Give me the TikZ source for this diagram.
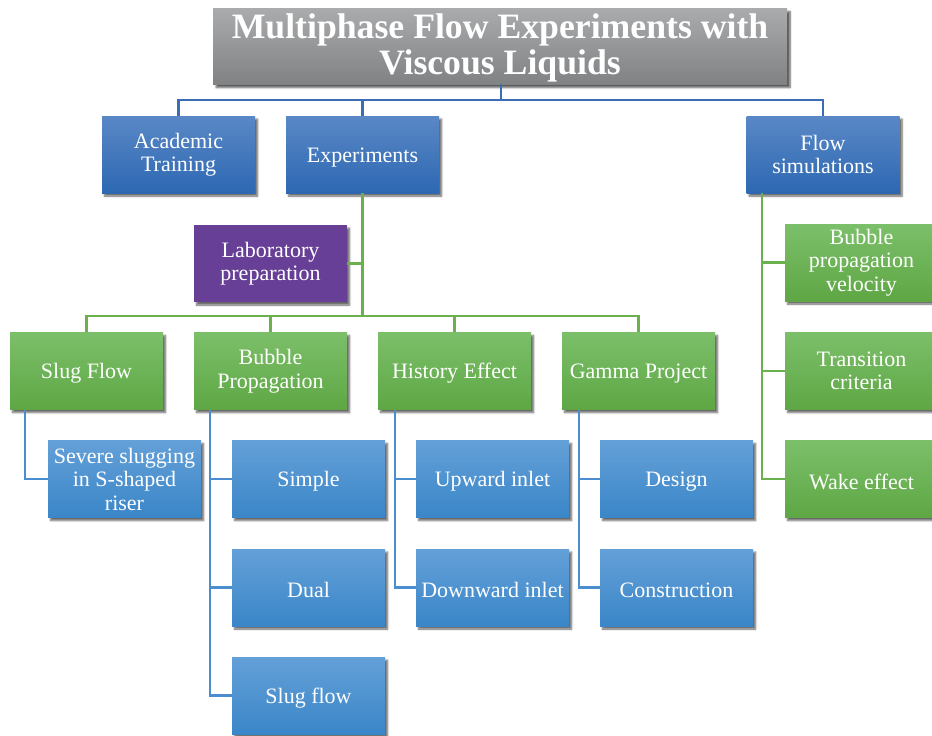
\documentclass[tikz,border=0pt]{standalone}
\usepackage{fontspec}
\setmainfont{Liberation Serif}
\usetikzlibrary{shadows.blur,calc}

\definecolor{titletop}{HTML}{A9ABAD}
\definecolor{titlebot}{HTML}{808284}
\definecolor{navytop}{HTML}{5A88C6}
\definecolor{navybot}{HTML}{2D68B2}
\definecolor{skytop}{HTML}{64A0D8}
\definecolor{skybot}{HTML}{3A86C8}
\definecolor{leaftop}{HTML}{7CBF6A}
\definecolor{leafbot}{HTML}{5EA744}
\definecolor{plum}{HTML}{673F96}
\definecolor{navyline}{HTML}{3B6DB5}
\definecolor{skyline}{HTML}{4A8ECF}
\definecolor{leafline}{HTML}{6AB04C}

\tikzset{
  card/.style={rectangle, minimum width=153pt, minimum height=77pt,
    inner sep=2pt, align=center, text=white,
    font=\fontsize{22}{23.5}\selectfont,
    % a taller first line pushes the text block slightly down
    execute at begin node={\rule{0pt}{20.5pt}},
    blur shadow={shadow xshift=2.5pt, shadow yshift=-3pt,
      shadow blur steps=6, shadow opacity=60}},
  navybox/.style={card, top color=navytop, bottom color=navybot},
  skybox/.style={card, top color=skytop, bottom color=skybot},
  leafbox/.style={card, top color=leaftop, bottom color=leafbot},
  plumbox/.style={card, fill=plum},
  titlebox/.style={rectangle, minimum width=574pt, minimum height=76pt,
    top color=titletop, bottom color=titlebot,
    blur shadow={shadow xshift=3pt, shadow yshift=-3.5pt,
      shadow blur steps=6, shadow opacity=65}},
  titletext/.style={align=center, text=white, inner sep=0pt,
    font=\fontsize{35.7}{36}\selectfont\bfseries},
  navylink/.style={draw=navyline, line width=2.2pt},
  skylink/.style={draw=skyline, line width=2.2pt},
  leaflink/.style={draw=leafline, line width=2.2pt},
}

\begin{document}
\begin{tikzpicture}[x=1pt, y=-1pt]
\useasboundingbox (0,0) rectangle (932,736);

% root
\node[titlebox] (title) at (500,46) {};
\node[titletext] (titlelabel) at ($(title.center)+(0,2)$) {Multiphase Flow Experiments with\\Viscous Liquids};

% first level
\node[navybox] (acad) at (178.5,154.5) {Academic\\Training};
\node[navybox] (exp)  at (362.5,154.5) {Experiments};
\node[navybox] (sim)  at (823,154.5) {Flow\\simulations};

% laboratory preparation
\node[plumbox] (lab) at (270.5,263.5) {Laboratory\\preparation};

% experiment groups
\node[leafbox] (slug)   at (86.5,371)  {Slug Flow};
\node[leafbox] (bubble) at (270.5,371) {Bubble\\Propagation};
\node[leafbox] (hist)   at (454.5,371) {History Effect};
\node[leafbox] (gamma)  at (638.5,371) {Gamma Project};

% simulation topics
\node[leafbox] (velo)  at (861.5,262.5) {Bubble\\propagation\\velocity};
\node[leafbox] (trans) at (861.5,371)   {Transition\\criteria};
\node[leafbox] (wake)  at (861.5,479)   {Wake effect};

% experiment details
\node[skybox] (severe) at (124.5,479)   {Severe slugging\\in S-shaped\\riser};
\node[skybox] (simple) at (308.5,479)   {Simple};
\node[skybox] (dual)   at (308.5,587.5) {Dual};
\node[skybox] (sflow)  at (308.5,695.5) {Slug flow};
\node[skybox] (up)     at (492.5,479)   {Upward inlet};
\node[skybox] (down)   at (492.5,587.5) {Downward inlet};
\node[skybox] (design) at (676.5,479)   {Design};
\node[skybox] (build)  at (676.5,587.5) {Construction};

% buses
\coordinate (busA) at (501,100);
\coordinate (busB) at (362.5,316);

% root to first level
\draw[navylink] (title.south -| busA) -- (busA);
\draw[navylink] (acad.north) |- (busA) -| (sim.north);
\draw[navylink] (exp.north) -- (exp.north |- busA);

% experiments to its children
\draw[leaflink] (exp.south) -- (busB);
\draw[leaflink] (lab.east) -- (lab.east -| exp.south);
\draw[leaflink] (slug.north) |- (busB) -| (gamma.north);
\draw[leaflink] (bubble.north) -- (bubble.north |- busB);
\draw[leaflink] (hist.north) -- (hist.north |- busB);

% simulation topics
\coordinate (simT) at ($(sim.south west)+(16,0)$);
\draw[leaflink] (simT) |- (velo.west);
\draw[leaflink] (simT) |- (trans.west);
\draw[leaflink] (simT) |- (wake.west);

% detail branches
\coordinate (slugT) at ($(slug.south west)+(15,0)$);
\draw[skylink] (slugT) |- (severe.west);

\coordinate (bubT) at ($(bubble.south west)+(16,0)$);
\draw[skylink] (bubT) |- (simple.west);
\draw[skylink] (bubT) |- (dual.west);
\draw[skylink] (bubT) |- (sflow.west);

\coordinate (histT) at ($(hist.south west)+(17,0)$);
\draw[skylink] (histT) |- (up.west);
\draw[skylink] (histT) |- (down.west);

\coordinate (gamT) at ($(gamma.south west)+(17,0)$);
\draw[skylink] (gamT) |- (design.west);
\draw[skylink] (gamT) |- (build.west);
\end{tikzpicture}
\end{document}
